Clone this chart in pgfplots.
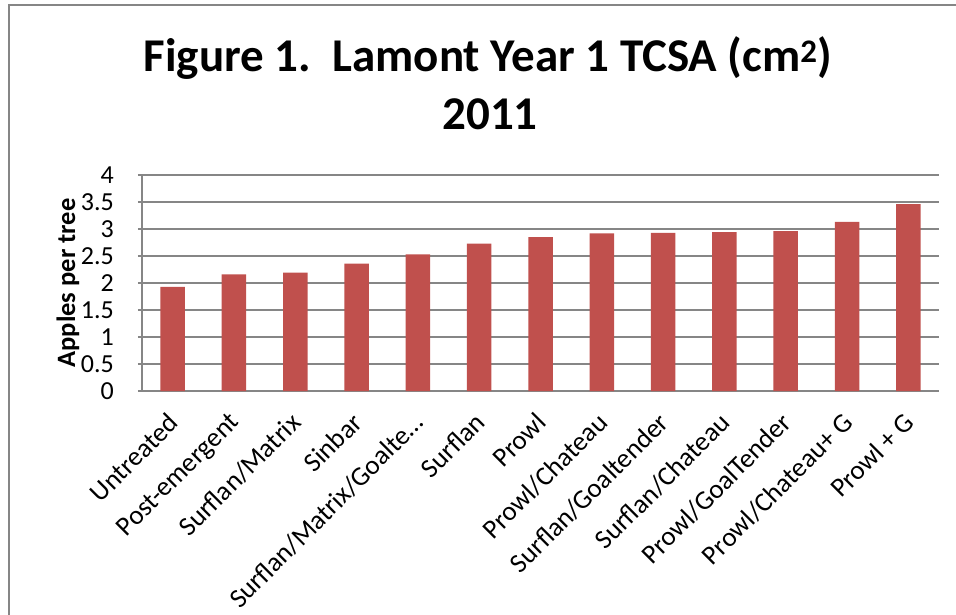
\documentclass[border=0pt]{standalone}
\usepackage{pgfplots}
\pgfplotsset{compat=1.18}
\usepackage{fontspec}
\setmainfont{Carlito}
\definecolor{barred}{HTML}{C0504D}
\definecolor{gridgray}{HTML}{868686}
\begin{document}
\begin{tikzpicture}
  \path[use as bounding box] (0pt,0pt) rectangle (956pt,-615pt);
  % chart frame (cropped)
  \draw[gridgray, line width=2pt] (9pt,-615pt) -- (9pt,-5pt) -- (956pt,-5pt);
  \node[font=\fontsize{47}{56}\selectfont\bfseries, anchor=base] at (488pt,-72pt)
    {Figure 1.\ \ Lamont Year 1 TCSA (cm\textsuperscript{2})};
  \node[font=\fontsize{47}{56}\selectfont\bfseries, anchor=base] at (490pt,-130pt) {2011};
  \begin{axis}[
    at={(142pt,-391pt)}, anchor=south west,
    scale only axis, width=797pt, height=216pt,
    ybar, bar width=24.5pt,
    ymin=0, ymax=4, ytick={0,0.5,...,4},
    xmin=-0.5, xmax=12.5,
    xtick=data,
    xticklabels={Untreated, Post-emergent, Surflan/Matrix, Sinbar,
      Surflan/Matrix/Goalte…, Surflan, Prowl, Prowl/Chateau,
      Surflan/Goaltender, Surflan/Chateau, Prowl/GoalTender,
      Prowl/Chateau+ G, Prowl + G},
    axis lines*=left,
    axis line style={gridgray, line width=1.2pt},
    ymajorgrids, grid style={gridgray, line width=1.2pt},
    tick align=outside,
    ytick style={gridgray, line width=1.2pt}, major tick length=4pt,
    xtick style={draw=none},
    /pgf/number format/assume math mode=true,
    yticklabel style={font=\fontsize{26}{30}\selectfont, anchor=east, inner sep=0pt, xshift=-24pt},
    xticklabel style={font=\fontsize{27}{30}\selectfont, yshift=-16pt, xshift=-6pt, rotate=45, anchor=north east, inner sep=0pt},
    ylabel={Apples per tree},
    ylabel style={font=\fontsize{26.5}{30}\selectfont\bfseries, at={(axis description cs:-0.093,0.5)}, anchor=center},
  ]
    \addplot[fill=barred, draw=none] coordinates {
      (0,1.93) (1,2.16) (2,2.19) (3,2.36) (4,2.53) (5,2.73) (6,2.85)
      (7,2.92) (8,2.93) (9,2.94) (10,2.96) (11,3.13) (12,3.46)
    };
  \end{axis}
\end{tikzpicture}
\end{document}
